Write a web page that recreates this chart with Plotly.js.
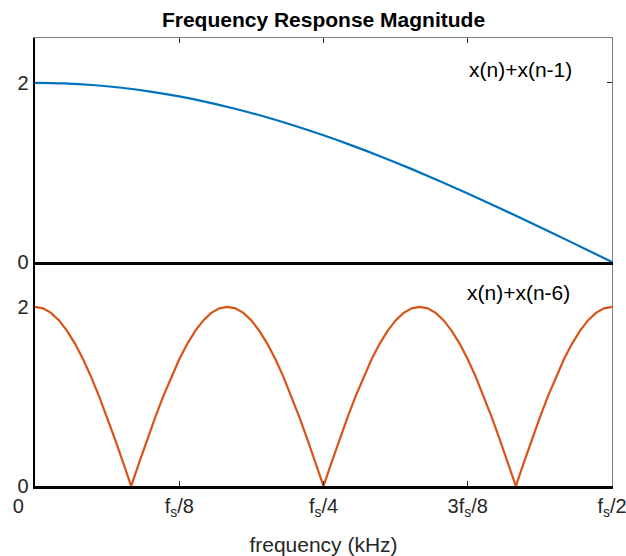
<!DOCTYPE html>
<html>
<head>
<meta charset="utf-8">
<script src="https://cdn.plot.ly/plotly-3.0.1.min.js"></script>
<style>html,body{margin:0;padding:0;background:#fff;}#chart{width:626px;height:556px;}</style>
</head>
<body>
<div id="chart"></div>
<script>
// Frequency axis in units of fs/144 (0 .. 72 = fs/2)
const freqTop = [0, 3.6, 7.2, 10.8, 14.4, 18, 21.6, 25.2, 28.8, 32.4, 36, 39.6, 43.2, 46.8, 50.4, 54, 57.6, 61.2, 64.8, 68.4, 72];
const magTop = [2, 1.9938, 1.9754, 1.9447, 1.9021, 1.8478, 1.7820, 1.7053, 1.6180, 1.5208, 1.4142, 1.2989, 1.1756, 1.0450, 0.9080, 0.7654, 0.6180, 0.4669, 0.3129, 0.1569, 0];

const freqBot = [0,1,2,3,4,5,6,7,8,9,10,11,12,13,14,15,16,17,18,19,20,21,22,23,24,25,26,27,28,29,30,31,32,33,34,35,36,37,38,39,40,41,42,43,44,45,46,47,48,49,50,51,52,53,54,55,56,57,58,59,60,61,62,63,64,65,66,67,68,69,70,71,72];
const magBot = [
  2, 1.9829, 1.9319, 1.8478, 1.7321, 1.5867, 1.4142, 1.2175, 1.0, 0.7654, 0.5176, 0.2611,
  0, 0.2611, 0.5176, 0.7654, 1.0, 1.2175, 1.4142, 1.5867, 1.7321, 1.8478, 1.9319, 1.9829,
  2, 1.9829, 1.9319, 1.8478, 1.7321, 1.5867, 1.4142, 1.2175, 1.0, 0.7654, 0.5176, 0.2611,
  0, 0.2611, 0.5176, 0.7654, 1.0, 1.2175, 1.4142, 1.5867, 1.7321, 1.8478, 1.9319, 1.9829,
  2, 1.9829, 1.9319, 1.8478, 1.7321, 1.5867, 1.4142, 1.2175, 1.0, 0.7654, 0.5176, 0.2611,
  0, 0.2611, 0.5176, 0.7654, 1.0, 1.2175, 1.4142, 1.5867, 1.7321, 1.8478, 1.9319, 1.9829, 2
];

const xTickVals = [0, 18, 36, 54, 72];
const xTickText = ['0&nbsp;&nbsp;&nbsp;&nbsp;&nbsp;&nbsp;', 'f<sub>s</sub>/8', 'f<sub>s</sub>/4', '3f<sub>s</sub>/8', 'f<sub>s</sub>/2'];
const yTickVals = [0, 2];
const labelTop = 'x(n)+x(n-1)';
const labelBot = 'x(n)+x(n-6)';

const FONT = 'Liberation Sans, Arial, Helvetica, sans-serif';
const TXT = '#262626';

const traces = [
  {x: freqTop, y: magTop, xaxis: 'x2', yaxis: 'y2', mode: 'lines', line: {color: '#0072BD', width: 2.2, shape: 'spline'}, hoverinfo: 'skip'},
  {x: freqBot, y: magBot, xaxis: 'x', yaxis: 'y', mode: 'lines', line: {color: '#D95319', width: 2.2}, hoverinfo: 'skip'},
  // helpers for frame axes
  {x: [0], y: [0], xaxis: 'x3', yaxis: 'y2', mode: 'lines', line: {width: 0}, hoverinfo: 'skip'},
  {x: [0], y: [0], xaxis: 'x2', yaxis: 'y3', mode: 'lines', line: {width: 0}, hoverinfo: 'skip'},
  {x: [0], y: [0], xaxis: 'x', yaxis: 'y4', mode: 'lines', line: {width: 0}, hoverinfo: 'skip'}
];

const layout = {
  width: 626, height: 556,
  margin: {l: 35, r: 14, t: 38, b: 70},
  paper_bgcolor: '#fff', plot_bgcolor: '#fff',
  showlegend: false,
  font: {family: FONT, size: 20, color: TXT},
  title: {text: '<b>Frequency Response Magnitude</b>', font: {family: FONT, size: 21, color: '#000'}, x: 0.5, xref: 'paper', y: 0.964, yanchor: 'middle'},
  xaxis: {
    anchor: 'y', domain: [0, 1], range: [0, 72],
    tickvals: xTickVals, ticktext: xTickText, ticks: 'inside', ticklen: 5, tickwidth: 1, tickcolor: '#262626',
    showline: true, linecolor: '#000', linewidth: 2.5, showgrid: false, zeroline: false,
    tickfont: {size: 20, color: TXT}, ticklabeloverflow: 'allow',
    title: {text: 'frequency (kHz)', font: {size: 21, color: TXT}, standoff: 21}
  },
  yaxis: {
    anchor: 'x', domain: [0, 0.5], range: [0, 2.5],
    tickvals: yTickVals, ticks: '', showline: true, linecolor: '#000', linewidth: 2.5,
    showgrid: false, zeroline: false, tickfont: {size: 20, color: TXT}
  },
  xaxis2: {
    anchor: 'y2', domain: [0, 1], range: [0, 72], matches: 'x',
    showticklabels: false, ticks: '', showline: true, linecolor: '#000', linewidth: 2.5,
    showgrid: false, zeroline: false
  },
  yaxis2: {
    anchor: 'x2', domain: [0.5, 1], range: [0, 2.5],
    tickvals: yTickVals, ticks: '', showline: true, linecolor: '#000', linewidth: 2.5,
    showgrid: false, zeroline: false, tickfont: {size: 20, color: TXT}
  },
  xaxis3: {
    overlaying: 'x2', anchor: 'y2', side: 'top', range: [0, 72],
    tickvals: [18, 36, 54], ticks: 'inside', ticklen: 5, tickcolor: '#262626', showticklabels: false,
    showline: true, linecolor: '#808080', linewidth: 1, showgrid: false, zeroline: false
  },
  yaxis3: {
    overlaying: 'y2', anchor: 'x2', side: 'right', range: [0, 2.5],
    tickvals: [2], ticks: 'inside', ticklen: 5, tickcolor: '#262626', showticklabels: false,
    showline: true, linecolor: '#808080', linewidth: 1, showgrid: false, zeroline: false
  },
  yaxis4: {
    overlaying: 'y', anchor: 'x', side: 'right', range: [0, 2.5],
    ticks: '', showticklabels: false,
    showline: true, linecolor: '#808080', linewidth: 1, showgrid: false, zeroline: false
  },
  annotations: [
    {text: labelTop, xref: 'paper', yref: 'paper', x: 0.841, y: 0.929, xanchor: 'center', yanchor: 'middle', showarrow: false, font: {size: 21, color: '#000'}},
    {text: labelBot, xref: 'paper', yref: 'paper', x: 0.838, y: 0.433, xanchor: 'center', yanchor: 'middle', showarrow: false, font: {size: 21, color: '#000'}}
  ]
};

Plotly.newPlot('chart', traces, layout, {staticPlot: true, displayModeBar: false});
</script>
</body>
</html>
